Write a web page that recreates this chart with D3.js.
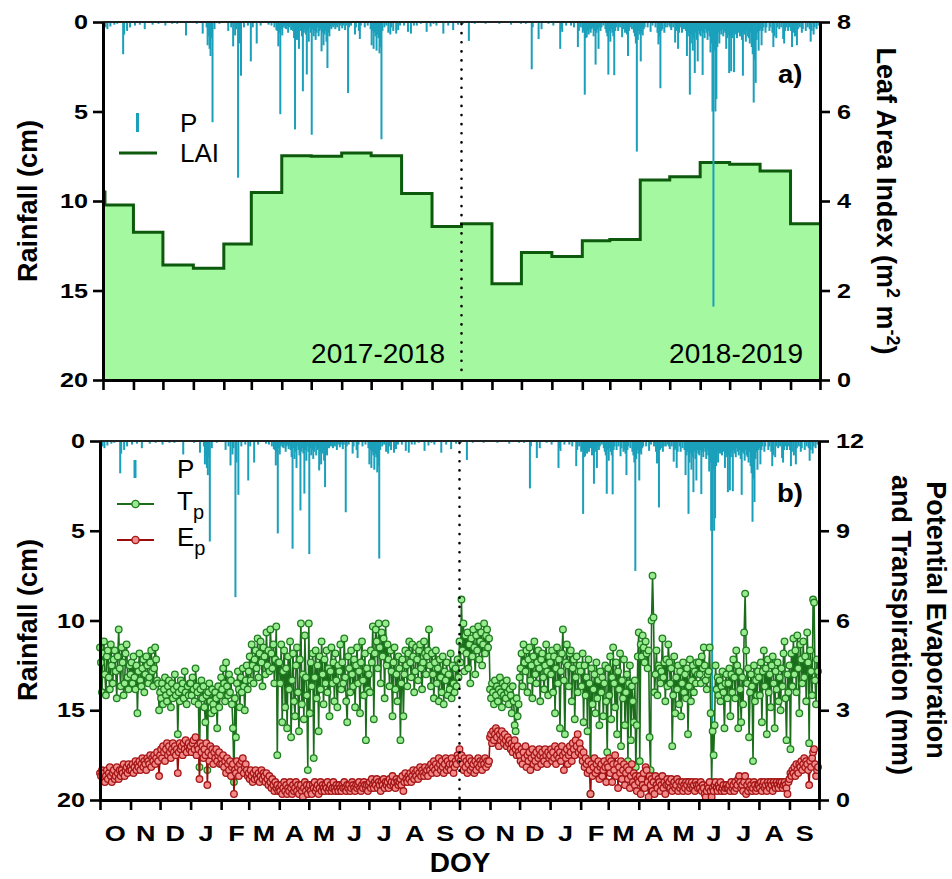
<!DOCTYPE html>
<html>
<head>
<meta charset="utf-8">
<script src="https://cdn.jsdelivr.net/npm/d3@7"></script>
<style>
  body { margin: 0; background: #fff; }
  svg text { font-family: "Liberation Sans", Arial, sans-serif; }
</style>
</head>
<body>
<svg id="chart" width="952" height="879"></svg>
<script>
// ---- data: daily values, one row per month, Oct 2017 .. Sep 2019 ----
const monthLabels = ["O","N","D","J","F","M","A","M","J","J","A","S",
                     "O","N","D","J","F","M","A","M","J","J","A","S"];

// daily rainfall P (cm)
const rainCm = [
  [0.1,0,0.3,0,0.4,0,0,0.25,0,0, 0,0.15,0,0,0.1,0,0,0,0,0, 1.8,0.7,0,0,0.5,0,0,0.3,0,0, 0],
  [0,0.2,0,0,0,0,0.15,0,0,0, 0,0.4,0,0,0,0,0,0,0,0.15, 0,0,0,0,0,0.1,0,0,0,0],
  [0,0,0.2,0,0,0,0,0,0,0.1, 0,0,0,0,0.1,0,0,0,0,0, 0,0,0,0.75,0,0,0,0,0,0, 0],
  [0,0,0,0.1,0,0,0,0,0,0.65, 0,0,0,0.3,1.3,0.8,1.5,1.9,0.9,5.6, 0,0.4,0,0,0,0,0.1,0,0,0, 0],
  [0,0,0,0,0.5,0,0,0.3,0,1.36, 0,0.75,0.4,0,8.7,1.2,0,3.0,0,0, 0.3,0,0,0,0.2,0,0,2.2],
  [0,0.3,0,0,0,1.2,0,0,0,0.2, 0,0,0,0,0,0,0,0.15,0,0, 0.2,0,0,0.3,0,0.45,0.5,1.36,0.6,5.15, 0.4],
  [0.75,0.3,0.2,0.35,0.4,0.2,0.6,0.3,0.2,0.45, 0.3,0.5,0.9,6.0,0.4,1.0,0.6,1.5,0.3,0.5, 0.8,3.87,0.6,0.4,0.7,2.93,0.5,1.1,0.3,0.6],
  [6.3,0.4,0.8,0.5,1.0,0.6,0.3,0.8,0.5,0.4, 1.64,0.6,1.3,0.7,0.5,1.1,2.57,0.6,0.8,0.3, 0.4,0.2,0.3,0.2,0.4,0.2,0.3,0.1,0.5,0.2, 0.1],
  [0.35,0.2,0,0.45,0.2,0,3.97,0.3,0,0.2, 0,0,0,0.7,0.3,0,0,0.5,0.95,0.2, 0,0,0,0.3,0,0,0.2,0,0,0.4],
  [1.3,0.5,1.5,0.6,0.8,1.6,0.7,0.9,1.75,1.4, 6.55,0.5,0,0.3,0,0.2,0,0.6,0,0.7, 0.3,0,0.5,0,0,0.65,0,0.45,0,0.2, 0],
  [0,0,0.2,0,0,0,0.55,0,0,0.65, 0,0,0.2,0,0,0.2,0,0,0,0.1, 0,0,0,0,0,0.55,0,0,0,0.25, 0],
  [0,0.1,0,0,0.2,0,0,0,0,0, 0,0.65,0,0,0,0,0.2,0,0,0, 0,0.45,0,0,0,0,0.15,0,0,0],
  [0,0.1,0,0,0,0,0,1.06,0,0, 0,0,0,0.1,0,0,0,0,0,0, 0,0,0,0,0.1,0,0,0,0,0, 0],
  [0,0,0,0,0,0,0,0.1,0,0, 0,0,0,0,0,0,0,0,0,0.15, 0,0,0,0,0,0,0,0,0,0.1],
  [0,0,0,0,0.1,0,0,0,0,0, 2.64,0.3,0,0,0,0,0,0.95,0,0, 0.4,0,0,0,0,0,0,0.1,0,0, 0],
  [0,0.2,0,0,0,0,0,0,1.5,0.4, 0.55,0,0,0,0.2,0,0,0,0,0.2, 0,0,0.3,0,0,0,1.4,0.5,0,0.3, 0],
  [0.6,0.5,4.06,0.9,0.85,0.5,0.7,0.4,0.6,0.4, 0.3,0.8,0.5,2.38,0.6,0.4,1.5,0.3,0.5,0.3, 0,0.2,0,0.4,0.6,0.8,2.94,0.5],
  [1.1,0.4,0.6,0.8,2.97,0.5,0.3,0,0.5,0, 0.3,0,0.85,0.4,0,0.6,0.5,0.7,1.9,0.5, 0.3,0,0.4,0,0.6,0.8,1.2,7.24,1.0,0.5, 0.7],
  [2.2,0.6,0.75,0.4,0.3,0,0,0.3,0,0, 0.55,0,0.2,0,0,0.3,0,0.6,1.25,0.8, 3.7,0.5,0.4,0,0.6,0.3,0,0.3,0,0.2],
  [0.3,0.45,0,0.3,0,1.15,0.5,0.4,1.5,0.6, 0,0.3,0.6,0,0.4,0,0.5,1.9,0.8,0.6, 4.06,1.2,0.7,1.6,0.9,2.85,0.6,1.0,2.2,0.5, 0.7],
  [0.8,0.5,2.96,0.6,0.9,0.4,0.6,1.0,0.5,0.8, 1.7,1.2,5.0,15.9,1.6,5.0,4.3,1.4,0.6,1.2, 0.5,0.7,0.4,0.8,0.5,0.6,1.5,0.9,0.7,2.85],
  [0.8,2.75,0.9,0.6,2.8,0.5,0.7,0.9,0.4,0.6, 0.8,0.5,1.0,3.0,0.6,0.7,1.1,0.5,0.8,0.9, 1.2,0.6,1.4,1.8,4.5,2.1,3.4,1.0,0.6,1.6, 0.5],
  [0.4,1.3,0.5,0.3,0,0.6,0.3,0,0,0.5, 0.3,0,0.6,1.4,0.8,0,0.9,0.3,0,0.4, 0,0.3,0,0.95,1.2,0.5,0.3,0,0.5,0.3, 0],
  [0.5,1.4,0.6,0,0.8,0,1.3,0.4,0,0.3, 0,0.6,0.4,0,0,0.5,0,0.3,0,0.4, 1.1,0.5,0,0.7,0.3,0,0.4,0,0.2,0]
];

// daily potential transpiration Tp (mm)
const tpMm = [
  [5.1,4.6,3.6,4.9,5.3,4.2,3.5,4.8,5.0,4.1, 3.7,5.2,4.5,3.9,4.7,5.0,4.3,3.4,4.8,5.7, 4.4,3.8,5.1,4.6,3.5,3.9,4.9,5.2,4.1,3.7, 4.5],
  [4.2,4.6,3.9,4.8,4.1,3.7,4.5,2.9,4.3,4.9, 4.0,3.8,4.4,4.7,3.6,4.2,4.8,4.5,3.9,4.1, 4.6,5.0,4.3,3.8,4.4,5.1,4.7,4.0,3.9,3.0],
  [3.6,3.4,3.9,3.2,3.7,4.1,3.5,3.3,3.8,4.0, 3.6,3.1,3.9,3.4,3.7,4.2,3.5,3.8,2.2,3.6, 3.3,4.0,3.7,3.9,3.4,4.3,3.6,3.2,3.8,3.5, 3.9],
  [3.9,3.5,4.1,3.7,3.3,4.4,3.8,3.6,3.2,1.1, 3.7,4.0,3.4,3.8,3.1,2.6,3.5,1.0,3.6,3.9, 3.3,2.9,3.7,3.2,3.0,3.6,3.4,2.4,3.8,3.1, 3.5],
  [4.1,3.7,4.4,3.9,3.3,4.6,3.8,3.5,4.2,3.6, 4.0,3.2,2.4,0.6,3.4,2.1,3.9,4.3,3.7,3.1, 4.1,3.6,4.4,3.8,3.0,4.0,4.5,3.7],
  [4.3,4.8,4.0,5.2,4.5,3.9,4.7,5.0,4.4,5.4, 4.1,4.9,5.3,4.6,3.8,5.1,4.8,4.2,5.6,4.5, 5.0,4.3,5.7,4.9,4.4,5.2,3.9,4.7,5.8,1.5, 4.6],
  [4.6,3.9,5.2,2.6,4.3,5.0,3.1,4.4,2.4,4.8, 3.7,5.3,2.1,4.0,4.9,3.3,2.8,4.5,5.1,3.6, 2.3,4.7,5.9,3.2,4.2,2.7,5.5,4.1,3.5,1.0],
  [5.9,2.9,4.6,3.8,4.9,1.4,4.1,5.0,3.4,4.5, 2.3,4.8,3.7,5.3,4.2,3.2,4.7,3.9,5.0,3.6, 4.4,2.8,4.3,5.1,3.9,4.6,3.3,4.9,4.0,3.1, 4.5],
  [4.3,5.2,3.7,4.6,3.9,5.4,4.1,3.3,2.6,4.8, 4.4,3.6,5.0,4.2,3.8,4.7,3.1,4.5,5.1,3.9, 4.3,2.9,4.6,5.3,4.0,3.5,4.9,2.0,4.4,3.7],
  [4.2,3.6,5.0,4.6,5.8,2.7,4.9,5.7,5.3,4.4, 5.9,5.1,3.9,5.6,4.8,5.4,3.4,5.9,4.5,5.2, 4.7,3.8,5.0,4.3,2.8,4.6,5.1,3.7,4.2,3.3, 4.8],
  [4.4,2.0,3.9,4.7,2.8,4.2,5.0,4.5,3.8,4.9, 5.3,4.6,4.1,5.2,4.8,3.6,4.3,5.1,4.7,4.0, 5.0,5.2,4.4,3.7,4.6,5.3,4.9,4.2,4.8,5.0, 5.7],
  [4.5,3.8,4.9,4.2,3.4,4.6,5.0,3.9,4.4,3.3, 4.7,4.1,3.6,4.8,3.2,4.3,4.0,4.6,3.5,4.2, 3.7,4.9,3.4,4.5,3.9,3.6,4.4,3.8,4.7,4.1],
  [5.3,4.6,6.7,5.0,5.9,4.3,5.5,4.9,5.6,4.4, 5.2,3.9,5.4,4.8,5.7,5.1,4.2,5.5,5.0,5.8, 4.7,5.3,5.6,4.5,5.2,5.9,4.9,5.5,5.7,5.1, 5.4],
  [3.7,3.4,3.9,3.6,3.2,4.0,3.5,3.8,3.3,3.7, 4.1,3.6,3.1,3.9,3.5,3.8,3.4,4.0,3.6,3.2, 3.7,3.5,2.9,3.8,3.3,2.5,2.3,3.4,2.8,3.2],
  [4.1,4.4,4.9,3.8,5.2,4.6,4.3,5.0,3.6,4.7, 5.1,4.0,4.5,3.4,4.8,5.3,4.2,3.9,4.6,5.0, 4.4,3.3,4.7,4.9,4.1,3.7,4.5,5.2,4.3,3.5, 4.8],
  [4.6,4.2,5.0,3.6,4.8,2.9,4.4,5.1,3.9,4.7, 2.4,4.3,4.9,5.7,4.0,2.2,4.6,5.2,4.5,3.8, 4.9,5.0,3.3,4.4,4.7,2.7,4.1,4.8,3.6,4.3, 4.5],
  [4.3,3.8,4.9,2.6,4.5,3.5,4.1,2.3,4.7,3.9, 0.2,4.4,3.2,3.7,4.2,2.9,4.6,3.4,4.0,2.5, 4.3,3.6,4.1,2.8,3.9,4.5,3.3,1.6],
  [4.4,3.5,4.8,2.7,4.1,5.1,3.9,3.1,4.6,2.2, 4.3,3.7,4.9,1.8,4.0,3.4,4.7,2.5,3.6,4.2, 1.3,3.9,4.5,2.0,3.8,3.3,2.6,4.0,1.1,2.5, 4.8],
  [5.6,1.3,5.2,4.8,5.5,5.1,4.6,5.3,4.9,4.4, 5.0,2.1,1.0,6.0,7.5,6.1,3.6,4.2,5.0,3.5, 4.5,4.4,3.9,4.3,5.4,4.1,4.6,3.3,4.7,3.8],
  [5.2,4.6,3.9,4.4,1.8,3.5,4.8,2.9,4.1,3.7, 4.5,3.2,4.3,2.8,3.9,4.6,3.6,4.2,3.4,4.4, 2.2,3.8,4.7,3.3,4.0,4.5,3.6,4.3,3.9,4.6, 4.2],
  [4.6,4.2,3.9,4.8,4.4,5.1,4.5,4.0,3.7,4.2, 4.3,5.1,2.9,0.6,2.3,1.5,2.5,4.5,3.7,4.1, 3.5,4.0,3.3,3.8,4.3,3.6,2.4,3.9,4.2,3.4],
  [3.9,4.4,2.8,4.2,3.6,4.7,4.1,3.4,5.0,4.5, 2.4,4.3,3.7,2.6,4.1,3.2,5.6,6.9,5.0,3.9, 4.4,2.1,3.6,4.2,3.8,1.3,4.5,3.3,4.0,3.5, 4.3],
  [4.1,3.5,4.6,2.6,4.3,5.0,3.8,4.4,2.2,4.7, 3.6,4.2,3.1,4.5,4.8,3.9,2.4,4.3,3.7,4.6, 3.3,4.1,3.0,4.4,3.8,4.9,5.3,3.4,2.0,4.2, 3.6],
  [4.5,1.7,4.9,3.8,5.4,4.2,5.0,3.6,5.5,4.4, 2.9,5.2,4.7,3.9,5.3,4.1,4.8,3.3,5.6,4.6, 1.9,5.0,4.3,3.5,6.7,6.6,4.0,3.2,4.7,4.3]
];

// daily potential evaporation Ep (mm)
const epMm = [
  [0.9,0.8,1.0,0.7,0.9,0.6,0.8,1.0,0.7,0.9, 1.1,0.8,0.6,0.9,1.0,0.7,0.8,1.1,0.9,0.7, 1.0,0.8,1.0,0.9,1.2,0.8,1.0,1.1,0.9,1.2, 1.0],
  [1.1,1.0,1.2,0.9,1.1,1.3,1.0,1.2,1.1,1.3, 1.0,1.2,1.4,1.1,1.3,1.2,1.0,1.4,1.3,1.2, 1.5,1.1,1.4,1.3,1.5,1.2,1.4,1.6,1.3,0.8],
  [1.5,1.7,1.4,1.8,1.6,1.3,1.7,1.9,1.5,1.8, 1.6,1.4,1.7,1.9,1.6,1.8,1.5,1.7,0.9,1.6, 1.9,1.7,1.8,1.5,1.9,1.7,2.0,1.6,1.8,1.9, 1.7],
  [1.8,1.6,1.9,2.0,1.7,2.1,1.5,1.8,1.7,0.7, 1.9,1.6,1.8,1.4,1.7,1.5,1.9,0.5,1.6,1.3, 1.8,1.5,1.7,1.2,1.6,1.4,1.7,1.3,1.5,1.6, 1.2],
  [1.4,1.2,1.5,1.1,1.3,0.9,1.4,1.2,1.0,1.3, 0.8,1.1,1.2,0.2,1.0,0.9,1.3,1.1,0.8,1.2, 1.0,1.3,1.4,0.9,1.1,1.2,1.0,0.8],
  [0.9,0.7,1.0,0.8,0.6,0.9,0.7,1.0,0.8,0.7, 0.9,0.6,0.8,1.0,0.7,0.9,0.8,0.6,0.9,0.7, 0.5,0.8,0.6,0.4,0.7,0.5,0.3,0.6,0.4,0.5, 0.3],
  [0.4,0.3,0.5,0.2,0.4,0.6,0.3,0.5,0.2,0.4, 0.3,0.6,0.4,0.2,0.5,0.3,0.4,0.6,0.3,0.5, 0.2,0.4,0.5,0.3,0.1,0.4,0.6,0.3,0.5,0.2],
  [0.4,0.5,0.3,0.2,0.5,0.4,0.6,0.3,0.4,0.5, 0.2,0.4,0.6,0.3,0.5,0.4,0.3,0.5,0.4,0.6, 0.3,0.4,0.5,0.3,0.4,0.6,0.4,0.3,0.5,0.4, 0.3],
  [0.5,0.4,0.3,0.5,0.4,0.6,0.4,0.3,0.5,0.4, 0.5,0.3,0.4,0.6,0.5,0.4,0.3,0.5,0.4,0.5, 0.6,0.4,0.3,0.5,0.4,0.6,0.5,0.4,0.5,0.3],
  [0.5,0.6,0.4,0.7,0.5,0.4,0.6,0.5,0.7,0.4, 0.6,0.5,0.3,0.6,0.5,0.7,0.4,0.6,0.5,0.6, 0.4,0.7,0.5,0.6,0.8,0.5,0.6,0.4,0.7,0.6, 0.5],
  [0.6,0.7,0.5,0.8,0.3,0.6,0.9,0.7,0.6,0.8, 0.7,0.9,0.6,0.8,1.0,0.7,0.9,0.8,1.0,0.7, 0.9,1.1,0.8,1.0,0.9,0.8,1.1,0.9,1.0,0.8, 1.1],
  [1.0,1.2,0.9,1.1,1.3,1.0,1.2,0.9,1.1,1.4, 1.2,1.0,1.3,1.1,0.9,1.2,1.4,1.0,1.3,1.1, 1.2,1.0,1.4,1.2,0.9,1.1,1.3,1.2,1.5,1.4],
  [1.7,1.3,1.5,1.2,1.0,1.4,1.1,1.3,0.9,1.2, 1.4,1.0,1.3,1.1,1.2,0.9,1.3,1.0,1.2,1.4, 1.1,1.3,1.2,1.0,1.3,1.2,1.4,1.1,1.3,1.2, 1.3],
  [2.1,2.2,1.9,2.3,2.0,2.2,2.4,2.1,2.3,1.8, 2.2,2.0,2.3,2.1,1.9,2.2,2.0,1.8,2.1,1.9, 2.0,1.7,1.9,1.6,1.8,2.0,1.7,1.5,1.8,1.6],
  [1.5,1.3,1.7,1.2,1.6,1.4,1.8,1.1,1.5,1.3, 1.6,1.0,1.4,1.7,1.2,1.5,1.3,1.6,1.1,1.4, 1.7,1.5,1.2,1.6,1.4,1.3,1.7,1.5,1.2,1.6, 1.4],
  [1.5,1.7,1.3,1.6,1.4,1.8,1.2,1.5,1.7,1.4, 1.6,1.3,1.8,1.5,1.0,1.6,1.4,1.7,1.2,1.5, 1.8,1.6,1.3,1.9,1.7,1.5,2.0,1.8,2.2,1.6, 1.9],
  [1.7,1.5,1.3,1.6,1.1,1.4,1.2,0.9,1.3,1.0, 0.2,1.2,0.8,1.1,1.4,0.9,1.2,1.0,1.3,0.7, 1.1,1.2,0.8,1.0,1.3,1.1,0.6,1.2],
  [1.1,1.4,0.9,1.3,0.6,1.2,1.0,1.5,0.8,1.2, 0.4,1.1,0.9,1.3,0.7,1.0,1.2,0.5,0.9,1.1, 0.7,1.0,0.4,0.8,1.2,0.6,0.9,0.5,0.8,0.3, 0.7],
  [0.6,0.8,0.2,0.7,0.5,0.9,0.4,1.1,1.0,0.6, 0.1,0.8,0.5,0.7,0.3,0.6,0.2,0.8,0.5,0.4, 0.7,0.6,0.3,0.5,0.8,0.4,0.6,0.2,0.5,0.7],
  [0.5,0.6,0.4,0.7,0.3,0.5,0.6,0.4,0.5,0.7, 0.3,0.6,0.4,0.5,0.6,0.3,0.5,0.4,0.6,0.5, 0.3,0.6,0.4,0.5,0.6,0.4,0.5,0.3,0.6,0.5, 0.4],
  [0.5,0.4,0.6,0.3,0.5,0.4,0.2,0.1,0.3,0.5, 0.4,0.6,0.3,0.1,0.4,0.3,0.5,0.6,0.4,0.3, 0.5,0.4,0.6,0.3,0.4,0.5,0.3,0.4,0.5,0.4],
  [0.4,0.5,0.3,0.6,0.4,0.5,0.3,0.6,0.4,0.5, 0.7,0.8,0.6,0.4,0.5,0.3,0.6,0.8,0.2,0.5, 0.3,0.6,0.4,0.5,0.3,0.4,0.6,0.5,0.3,0.4, 0.5],
  [0.5,0.4,0.6,0.3,0.5,0.6,0.4,0.5,0.3,0.6, 0.5,0.4,0.6,0.5,0.3,0.6,0.5,0.4,0.6,0.5, 0.4,0.6,0.5,0.6,0.4,0.5,0.6,0.5,0.4,0.2, 0.6],
  [0.7,0.9,0.8,1.0,0.9,1.1,0.8,1.2,1.0,0.9, 1.2,1.1,1.3,1.0,1.2,1.4,1.1,1.3,1.2,1.0, 0.5,1.3,1.1,1.4,1.6,1.7,1.2,0.8,1.0,1.1]
];

// leaf area index, monthly steps (m2 m-2)
const laiDates  = ["2017-10-01","2017-10-03","2017-11-01","2017-12-01","2018-01-01","2018-02-01",
                   "2018-03-01","2018-04-01","2018-05-01","2018-06-01","2018-07-01","2018-08-01",
                   "2018-09-01","2018-10-01","2018-11-01","2018-12-01","2019-01-01","2019-02-01",
                   "2019-03-01","2019-04-01","2019-05-01","2019-06-01","2019-07-01","2019-08-01",
                   "2019-09-01","2019-10-01"];
const laiValues = [4.2, 3.91, 3.30, 2.57, 2.50, 3.04,
                   4.19, 5.01, 5.00, 5.07, 5.01, 4.17,
                   3.43, 3.49, 2.15, 2.85, 2.76, 3.11,
                   3.14, 4.47, 4.54, 4.86, 4.82, 4.67,
                   3.49, 3.49];

const rainTicks = [0, 5, 10, 15, 20];
const laiTicks  = [0, 2, 4, 6, 8];
const evapTicks = [0, 3, 6, 9, 12];
const seasonLabels = ["2017-2018", "2018-2019"];

// ---- build series ----
const start = new Date(2017, 9, 1), end = new Date(2019, 9, 1), split = new Date(2018, 9, 1);
const monthStarts = d3.timeMonth.range(start, end);
const daily = byMonth => byMonth.flatMap((vals, m) =>
  vals.map((v, i) => ({ date: d3.timeDay.offset(monthStarts[m], i), value: v })));
const rain = daily(rainCm).filter(d => d.value > 0);
const tp = daily(tpMm);
const ep = daily(epMm);
const parse = d3.timeParse("%Y-%m-%d");
const lai = laiDates.map((s, i) => ({ date: parse(s), value: laiValues[i] }));
const monthTicks = d3.timeMonth.range(start, d3.timeDay.offset(end, 1));
const monthMids = monthStarts.map(m => d3.timeDay.offset(m, 15));

// ---- colours ----
const C = {
  rain: "#1ba0bb", laiFill: "#a4f89f", laiLine: "#0d5a0d",
  tpLine: "#1b6d1b", tpFill: "#98ec8f", tpStroke: "#217d21",
  epLine: "#990d0d", epFill: "#f28b8b", epStroke: "#a51616"
};

const svg = d3.select("#chart");

// ---- scales ----
const xA = d3.scaleTime().domain([start, end]).range([103, 820]);
const xB = d3.scaleTime().domain([start, end]).range([100, 819]);
const yRainA = d3.scaleLinear().domain([0, 20]).range([22, 380]);
const yLai = d3.scaleLinear().domain([0, 8]).range([380, 22]);
const yRainB = d3.scaleLinear().domain([0, 20]).range([441, 800]);
const yEvap = d3.scaleLinear().domain([0, 12]).range([800, 441]);

function styleAxis(g) {
  g.select(".domain").attr("stroke", "#000").attr("stroke-width", 3);
  g.selectAll(".tick line").attr("stroke", "#000").attr("stroke-width", 2.6);
  g.selectAll(".tick text").attr("fill", "#000")
    .attr("font-family", "Liberation Sans, Arial, sans-serif")
    .attr("font-weight", "bold").attr("font-size", 21);
}
function stretchText(g, x) {
  g.selectAll(".tick text").attr("transform", "scale(1.2,1)").attr("x", x / 1.2);
}

// ================= panel a =================
const pa = svg.append("g");
pa.append("path").datum(lai)
  .attr("fill", C.laiFill)
  .attr("d", d3.area().curve(d3.curveStepAfter)
    .x(d => xA(d.date)).y0(yLai(0)).y1(d => yLai(d.value)));
pa.append("path").datum(lai)
  .attr("fill", "none").attr("stroke", C.laiLine).attr("stroke-width", 3)
  .attr("d", d3.line().curve(d3.curveStepAfter)
    .x(d => xA(d.date)).y(d => yLai(d.value)));
pa.selectAll("rect.rain").data(rain).join("rect")
  .attr("class", "rain")
  .attr("x", d => xA(d.date) - 0.5).attr("width", 2)
  .attr("y", yRainA(0)).attr("height", d => yRainA(d.value) - yRainA(0))
  .attr("fill", C.rain);
pa.append("line")
  .attr("x1", xA(split)).attr("x2", xA(split)).attr("y1", 24).attr("y2", 378)
  .attr("stroke", "#000").attr("stroke-width", 2.6)
  .attr("stroke-dasharray", "0.1,9").attr("stroke-linecap", "round");
pa.append("line").attr("x1", 103).attr("x2", 820).attr("y1", 22).attr("y2", 22)
  .attr("stroke", "#222").attr("stroke-width", 2);

pa.append("g").attr("transform", "translate(103,0)")
  .call(d3.axisLeft(yRainA).tickValues(rainTicks).tickSize(10).tickSizeOuter(0))
  .call(styleAxis).call(g => stretchText(g, -15));
pa.append("g").attr("transform", "translate(820,0)")
  .call(d3.axisRight(yLai).tickValues(laiTicks).tickSize(10).tickSizeOuter(0))
  .call(styleAxis).call(g => stretchText(g, 17));
pa.append("g").attr("transform", "translate(0,380)")
  .call(d3.axisBottom(xA).tickValues(monthTicks).tickFormat("").tickSize(10).tickSizeOuter(0))
  .call(styleAxis);

// ================= panel b =================
const pb = svg.append("g");
pb.selectAll("rect.rain").data(rain).join("rect")
  .attr("class", "rain")
  .attr("x", d => xB(d.date) - 0.5).attr("width", 2)
  .attr("y", yRainB(0)).attr("height", d => yRainB(d.value) - yRainB(0))
  .attr("fill", C.rain);

function drawSeries(data, line, fill, stroke) {
  pb.append("path").datum(data)
    .attr("fill", "none").attr("stroke", line).attr("stroke-width", 1.6)
    .attr("d", d3.line().x(d => xB(d.date)).y(d => yEvap(d.value)));
  pb.append("g").selectAll("circle").data(data).join("circle")
    .attr("cx", d => xB(d.date)).attr("cy", d => yEvap(d.value)).attr("r", 3.3)
    .attr("fill", fill).attr("stroke", stroke).attr("stroke-width", 1.3);
}
drawSeries(tp, C.tpLine, C.tpFill, C.tpStroke);
drawSeries(ep, C.epLine, C.epFill, C.epStroke);

pb.append("line")
  .attr("x1", xB(split)).attr("x2", xB(split)).attr("y1", 443).attr("y2", 798)
  .attr("stroke", "#000").attr("stroke-width", 2.6)
  .attr("stroke-dasharray", "0.1,9").attr("stroke-linecap", "round");
pb.append("line").attr("x1", 100).attr("x2", 819).attr("y1", 441).attr("y2", 441)
  .attr("stroke", "#222").attr("stroke-width", 2);

pb.append("g").attr("transform", "translate(100,0)")
  .call(d3.axisLeft(yRainB).tickValues(rainTicks).tickSize(10).tickSizeOuter(0))
  .call(styleAxis).call(g => stretchText(g, -15));
pb.append("g").attr("transform", "translate(819,0)")
  .call(d3.axisRight(yEvap).tickValues(evapTicks).tickSize(10).tickSizeOuter(0))
  .call(styleAxis).call(g => stretchText(g, 17));
pb.append("g").attr("transform", "translate(0,800)")
  .call(d3.axisBottom(xB).tickValues(monthTicks).tickFormat("").tickSize(10).tickSizeOuter(0))
  .call(styleAxis);
pb.append("g").attr("transform", "translate(0,800)")
  .call(d3.axisBottom(xB).tickValues(monthMids).tickFormat((d, i) => monthLabels[i]).tickSize(0))
  .call(styleAxis)
  .call(g => g.select(".domain").remove())
  .call(g => g.selectAll(".tick text").attr("font-size", 22.5).attr("y", 41).attr("dy", 0)
    .attr("transform", "scale(1.2,1)"));

// ================= titles & labels =================
const title = (x, y, rot, txt) => svg.append("text")
  .attr("transform", `translate(${x},${y}) rotate(${rot})`)
  .attr("text-anchor", "middle").attr("font-weight", "bold").attr("font-size", 27)
  .text(txt);
title(37, 201, -90, "Rainfall (cm)");
title(37, 620, -90, "Rainfall (cm)");

const laiTitle = svg.append("text")
  .attr("transform", "translate(877,201) rotate(90)")
  .attr("text-anchor", "middle").attr("font-weight", "bold").attr("font-size", 27);
laiTitle.append("tspan").text("Leaf Area Index (m");
laiTitle.append("tspan").attr("dy", -10).attr("font-size", 18).text("2");
laiTitle.append("tspan").attr("dy", 10).text(" m");
laiTitle.append("tspan").attr("dy", -10).attr("font-size", 18).text("-2");
laiTitle.append("tspan").attr("dy", 10).text(")");

title(927, 620, 90, "Potential Evaporation");
title(892, 625, 90, "and Transpiration (mm)");

svg.append("text").attr("x", 460).attr("y", 872).attr("text-anchor", "middle")
  .attr("font-weight", "bold").attr("font-size", 28).text("DOY");

const panelTag = (x, y, txt) => svg.append("text")
  .attr("transform", `translate(${x},${y}) scale(1.1,1)`)
  .attr("font-weight", "bold").attr("font-size", 25).text(txt);
panelTag(778, 83, "a)");
panelTag(777, 502, "b)");

svg.append("text").attr("x", 445).attr("y", 363).attr("text-anchor", "end")
  .attr("font-size", 28).text(seasonLabels[0]);
svg.append("text").attr("x", 803).attr("y", 363).attr("text-anchor", "end")
  .attr("font-size", 28).text(seasonLabels[1]);

// ---- legends ----
const la = svg.append("g");
la.append("line").attr("x1", 137.5).attr("x2", 137.5).attr("y1", 113).attr("y2", 132)
  .attr("stroke", C.rain).attr("stroke-width", 3);
la.append("text").attr("x", 180).attr("y", 132).attr("font-size", 26).text("P");
la.append("line").attr("x1", 119).attr("x2", 157).attr("y1", 153).attr("y2", 153)
  .attr("stroke", C.laiLine).attr("stroke-width", 3.2);
la.append("text").attr("x", 180).attr("y", 162).attr("font-size", 26).text("LAI");

const lb = svg.append("g");
lb.append("line").attr("x1", 135).attr("x2", 135).attr("y1", 460).attr("y2", 478)
  .attr("stroke", C.rain).attr("stroke-width", 3);
lb.append("text").attr("x", 177).attr("y", 478).attr("font-size", 26).text("P");
[[504, 510, "T", C.tpLine, C.tpFill, C.tpStroke], [540, 546, "E", C.epLine, C.epFill, C.epStroke]]
  .forEach(([ly, ty, letter, line, fill, stroke]) => {
    lb.append("line").attr("x1", 117).attr("x2", 154).attr("y1", ly).attr("y2", ly)
      .attr("stroke", line).attr("stroke-width", 1.8);
    lb.append("circle").attr("cx", 135.5).attr("cy", ly).attr("r", 3.6)
      .attr("fill", fill).attr("stroke", stroke).attr("stroke-width", 1.4);
    const t = lb.append("text").attr("x", 177).attr("y", ty).attr("font-size", 26);
    t.append("tspan").text(letter);
    t.append("tspan").attr("dy", 9).attr("font-size", 20).text("p");
  });
</script>
</body>
</html>
